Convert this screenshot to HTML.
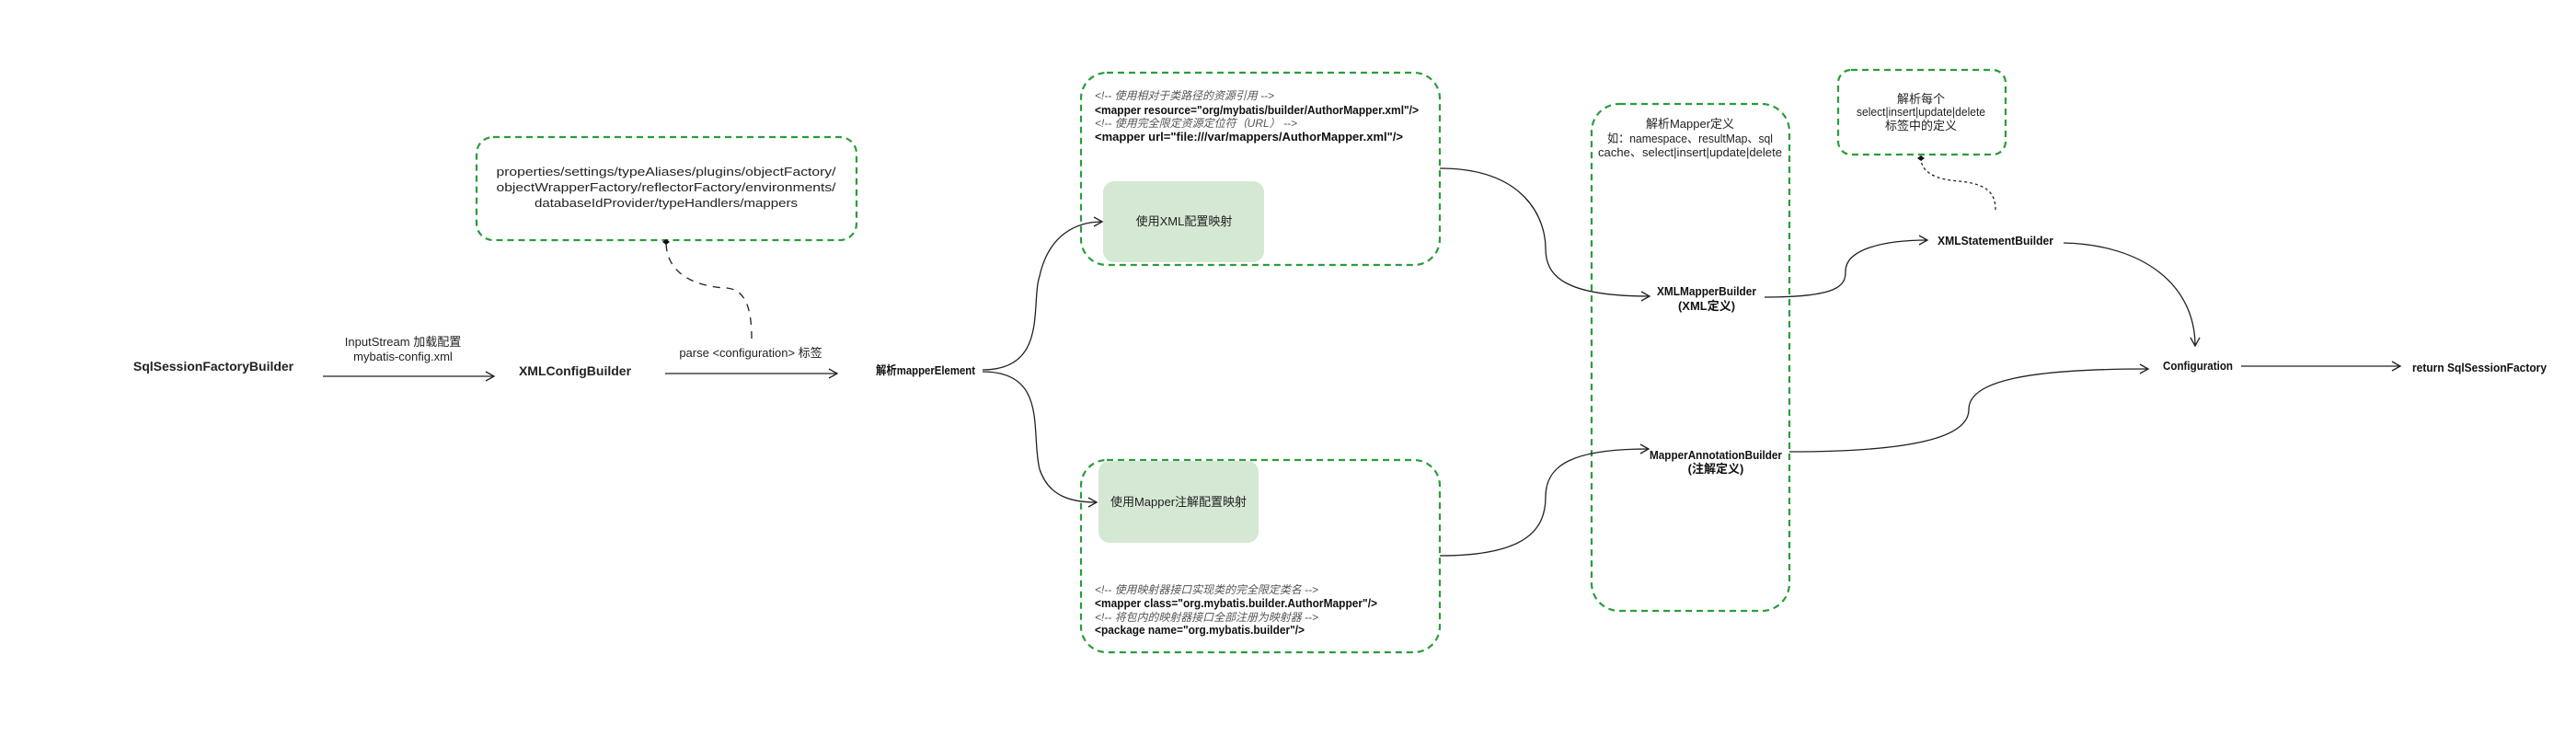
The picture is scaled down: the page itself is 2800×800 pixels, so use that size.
<!DOCTYPE html>
<html><head><meta charset="utf-8"><style>
html,body{margin:0;padding:0;background:#fff}
svg{display:block}
text{font-family:"Liberation Sans Narrow","Liberation Sans","Noto Sans CJK SC",sans-serif;fill:#222}
.b{font-weight:bold;font-size:14px}
.n{font-size:13px}
.i{font-size:12px;font-style:italic;fill:#555}
.c{font-size:13px;font-weight:bold;fill:#111}
</style></head><body>
<svg width="2800" height="800" viewBox="0 0 2800 800" xmlns="http://www.w3.org/2000/svg">
<defs>
<marker id="a" markerWidth="12" markerHeight="12" refX="10" refY="6" orient="auto" markerUnits="userSpaceOnUse">
<path d="M1,1 L10,6 L1,11" fill="none" stroke="#222" stroke-width="1.3"/></marker>
<marker id="d" markerWidth="10" markerHeight="10" refX="5" refY="5" orient="auto" markerUnits="userSpaceOnUse">
<path d="M5,1 L8,5 L5,9 L2,5Z" fill="#111"/></marker>
</defs>
<g fill="none" stroke="#2a9d3a" stroke-width="2.2" stroke-dasharray="7,5">
<rect x="518" y="149" width="413" height="112" rx="18"/>
<rect x="1175" y="79" width="390" height="209" rx="28"/>
<rect x="1175" y="500" width="390" height="209" rx="28"/>
<rect x="1730" y="113" width="215" height="551" rx="30"/>
<rect x="1998" y="76" width="182" height="92" rx="14"/>
</g>
<rect x="1199" y="197" width="175" height="88" rx="12" fill="#d5e8d4"/>
<rect x="1194" y="501" width="174" height="89" rx="12" fill="#d5e8d4"/>
<g fill="none" stroke="#222" stroke-width="1.3">
<path d="M351,409 L537,409" marker-end="url(#a)"/>
<path d="M723,406 L910,406" marker-end="url(#a)"/>
<path d="M1068,402 C1140,402 1120,330 1130,300 C1140,255 1170,241 1198,241" marker-end="url(#a)"/>
<path d="M1068,404 C1140,404 1120,470 1130,510 C1140,540 1165,546 1192,546" marker-end="url(#a)"/>
<path d="M1565,183 C1660,183 1680,240 1680,270 C1680,300 1700,322 1793,322" marker-end="url(#a)"/>
<path d="M1565,604 C1660,604 1680,575 1680,540 C1680,505 1710,488 1792,488" marker-end="url(#a)"/>
<path d="M1918,323 C2000,323 2006,310 2006,295 C2006,270 2050,261 2095,261" marker-end="url(#a)"/>
<path d="M2243,264 C2330,266 2386,310 2386,376" marker-end="url(#a)"/>
<path d="M1945,491 C2100,491 2140,470 2140,445 C2140,415 2200,401 2335,401" marker-end="url(#a)"/>
<path d="M2436,398 L2609,398" marker-end="url(#a)"/>
<path d="M817,368 C817,330 808,315 790,313 C760,312 724,300 724,263" stroke-dasharray="8,7" marker-end="url(#d)"/>
<path d="M2169,228 C2169,210 2160,200 2130,197 C2100,195 2088,185 2088,172" stroke-dasharray="3,3" marker-end="url(#d)"/>
</g>
<text class="n" text-anchor="middle" x="724" y="191" textLength="369" lengthAdjust="spacingAndGlyphs">properties/settings/typeAliases/plugins/objectFactory/</text>
<text class="n" text-anchor="middle" x="724" y="208" textLength="369" lengthAdjust="spacingAndGlyphs">objectWrapperFactory/reflectorFactory/environments/</text>
<text class="n" text-anchor="middle" x="724" y="225" textLength="286" lengthAdjust="spacingAndGlyphs">databaseIdProvider/typeHandlers/mappers</text>
<text class="b" text-anchor="middle" x="232" y="403">SqlSessionFactoryBuilder</text>
<text class="n" text-anchor="middle" x="438" y="376">InputStream 加载配置</text>
<text class="n" text-anchor="middle" x="438" y="392">mybatis-config.xml</text>
<text class="b" text-anchor="middle" x="625" y="408">XMLConfigBuilder</text>
<text class="n" text-anchor="middle" x="816" y="388">parse &lt;configuration&gt; 标签</text>
<text class="c" text-anchor="middle" x="1006" y="407" textLength="108" lengthAdjust="spacingAndGlyphs">解析mapperElement</text>
<text class="i" x="1190" y="108" textLength="195" lengthAdjust="spacingAndGlyphs">&lt;!-- 使用相对于类路径的资源引用 --&gt;</text>
<text class="c" x="1190" y="124" textLength="352" lengthAdjust="spacingAndGlyphs">&lt;mapper resource="org/mybatis/builder/AuthorMapper.xml"/&gt;</text>
<text class="i" x="1190" y="138" textLength="220" lengthAdjust="spacingAndGlyphs">&lt;!-- 使用完全限定资源定位符（URL） --&gt;</text>
<text class="c" x="1190" y="153" textLength="335" lengthAdjust="spacingAndGlyphs">&lt;mapper url="file:///var/mappers/AuthorMapper.xml"/&gt;</text>
<text class="n" text-anchor="middle" x="1287" y="245">使用XML配置映射</text>
<text class="n" text-anchor="middle" x="1281" y="550">使用Mapper注解配置映射</text>
<text class="i" x="1190" y="645" textLength="243" lengthAdjust="spacingAndGlyphs">&lt;!-- 使用映射器接口实现类的完全限定类名 --&gt;</text>
<text class="c" x="1190" y="660" textLength="307" lengthAdjust="spacingAndGlyphs">&lt;mapper class="org.mybatis.builder.AuthorMapper"/&gt;</text>
<text class="i" x="1190" y="675" textLength="243" lengthAdjust="spacingAndGlyphs">&lt;!-- 将包内的映射器接口全部注册为映射器 --&gt;</text>
<text class="c" x="1190" y="689" textLength="228" lengthAdjust="spacingAndGlyphs">&lt;package name="org.mybatis.builder"/&gt;</text>
<text class="n" text-anchor="middle" x="1837" y="139">解析Mapper定义</text>
<text class="n" text-anchor="middle" x="1837" y="155" textLength="180" lengthAdjust="spacingAndGlyphs">如：namespace、resultMap、sql</text>
<text class="n" text-anchor="middle" x="1837" y="170" textLength="200" lengthAdjust="spacingAndGlyphs">cache、select|insert|update|delete</text>
<text class="c" text-anchor="middle" x="1855" y="321" textLength="108" lengthAdjust="spacingAndGlyphs">XMLMapperBuilder</text>
<text class="c" text-anchor="middle" x="1855" y="337">(XML定义)</text>
<text class="c" text-anchor="middle" x="1865" y="499" textLength="144" lengthAdjust="spacingAndGlyphs">MapperAnnotationBuilder</text>
<text class="c" text-anchor="middle" x="1865" y="514">(注解定义)</text>
<text class="n" text-anchor="middle" x="2088" y="112">解析每个</text>
<text class="n" text-anchor="middle" x="2088" y="126" textLength="140" lengthAdjust="spacingAndGlyphs">select|insert|update|delete</text>
<text class="n" text-anchor="middle" x="2088" y="141">标签中的定义</text>
<text class="c" text-anchor="middle" x="2169" y="266" textLength="126" lengthAdjust="spacingAndGlyphs">XMLStatementBuilder</text>
<text class="c" text-anchor="middle" x="2389" y="402" textLength="76" lengthAdjust="spacingAndGlyphs">Configuration</text>
<text class="c" text-anchor="middle" x="2695" y="404" textLength="146" lengthAdjust="spacingAndGlyphs">return SqlSessionFactory</text>
</svg>
</body></html>
